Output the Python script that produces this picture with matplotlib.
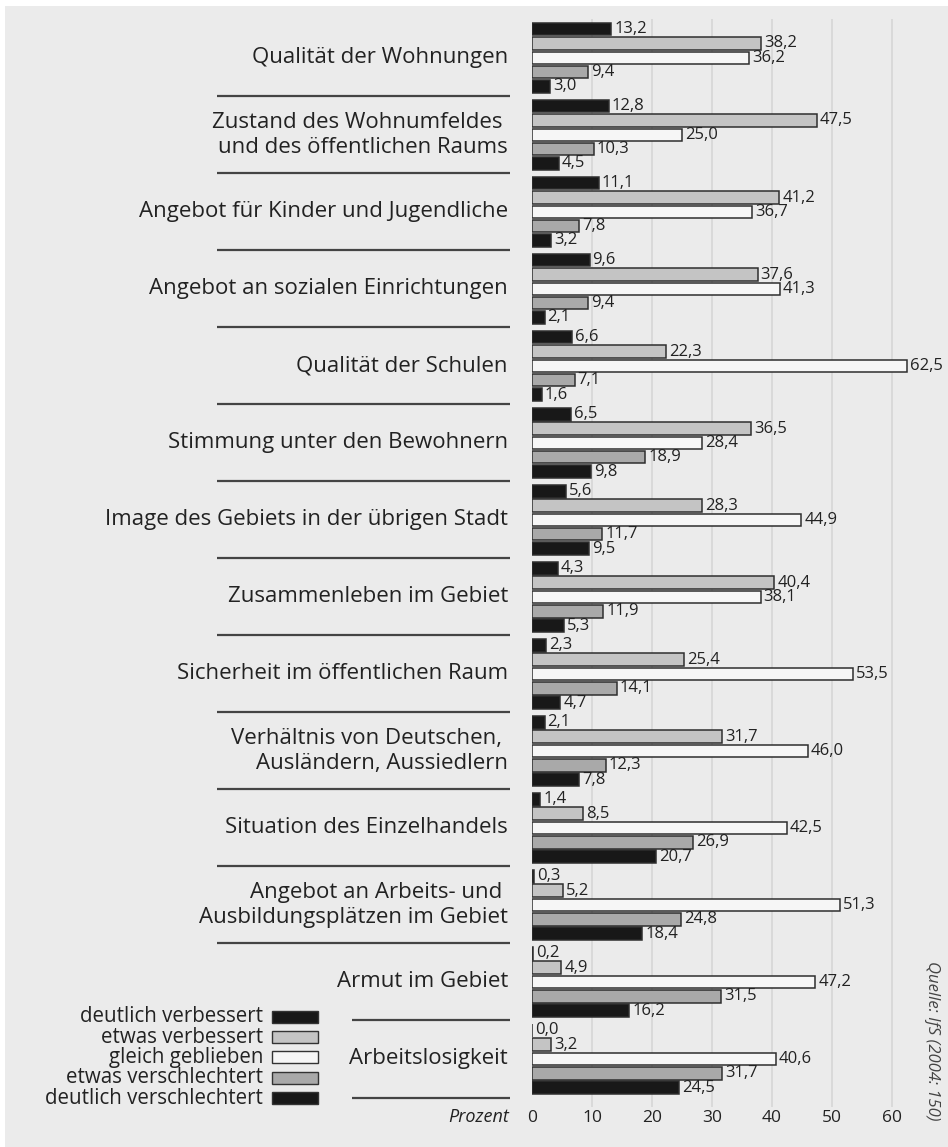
import numpy as np
import matplotlib.pyplot as plt
from matplotlib.patches import Rectangle

plt.rcParams['font.family'] = ['Open Sans', 'DejaVu Sans']

categories = [
    "Qualität der Wohnungen",
    "Zustand des Wohnumfeldes \nund des öffentlichen Raums",
    "Angebot für Kinder und Jugendliche",
    "Angebot an sozialen Einrichtungen",
    "Qualität der Schulen",
    "Stimmung unter den Bewohnern",
    "Image des Gebiets in der übrigen Stadt",
    "Zusammenleben im Gebiet",
    "Sicherheit im öffentlichen Raum",
    "Verhältnis von Deutschen, \nAusländern, Aussiedlern",
    "Situation des Einzelhandels",
    "Angebot an Arbeits- und \nAusbildungsplätzen im Gebiet",
    "Armut im Gebiet",
    "Arbeitslosigkeit",
]

series_names = ["deutlich verbessert", "etwas verbessert", "gleich geblieben",
                "etwas verschlechtert", "deutlich verschlechtert"]

deutlich_verbessert = [13.2, 12.8, 11.1, 9.6, 6.6, 6.5, 5.6, 4.3, 2.3, 2.1, 1.4, 0.3, 0.2, 0.0]
etwas_verbessert = [38.2, 47.5, 41.2, 37.6, 22.3, 36.5, 28.3, 40.4, 25.4, 31.7, 8.5, 5.2, 4.9, 3.2]
gleich_geblieben = [36.2, 25.0, 36.7, 41.3, 62.5, 28.4, 44.9, 38.1, 53.5, 46.0, 42.5, 51.3, 47.2, 40.6]
etwas_verschlechtert = [9.4, 10.3, 7.8, 9.4, 7.1, 18.9, 11.7, 11.9, 14.1, 12.3, 26.9, 24.8, 31.5, 31.7]
deutlich_verschlechtert = [3.0, 4.5, 3.2, 2.1, 1.6, 9.8, 9.5, 5.3, 4.7, 7.8, 20.7, 18.4, 16.2, 24.5]

x_ticks = [0, 10, 20, 30, 40, 50, 60]

series = [deutlich_verbessert, etwas_verbessert, gleich_geblieben,
          etwas_verschlechtert, deutlich_verschlechtert]
colors = ["#181818", "#c4c4c4", "#f6f6f6", "#a9a9a9", "#181818"]

W, H = 948, 1147
fig = plt.figure(figsize=(W / 100, H / 100), dpi=100, facecolor="white")
bg = "#ebebeb"
fig.patches.append(Rectangle((5 / W, 0), 1, 1 - 6 / H, transform=fig.transFigure,
                             facecolor=bg, edgecolor="none", zorder=-10))

# axes: x=0 at px 532, 6 px per percent; groups 77 px apart
x0_px, ppu = 532, 6.0
xmax = 65
top_px, bot_px = 19.3, 1097.5
ax = fig.add_axes([x0_px / W, 1 - bot_px / H, xmax * ppu / W, (bot_px - top_px) / H])
ax.set_facecolor("none")
ax.set_xlim(0, xmax)
ax.set_ylim(13.5, -0.5)
for s in ax.spines.values():
    s.set_visible(False)
ax.set_yticks([])
ax.set_xticks(x_ticks)
ax.set_xticklabels([str(t) for t in x_ticks])
ax.tick_params(axis="x", length=0, pad=9, labelsize=12.5, labelcolor="#222222")

n = len(categories)
y = np.arange(n)
step = 0.186
height = 0.163

ax.vlines(x_ticks[1:], -0.5, 13.62, colors="#d6d6d6", lw=1.2, zorder=0, clip_on=False)

for k, (vals, col) in enumerate(zip(series, colors)):
    yy = y + (k - 2) * step
    ax.barh(yy, vals, height=height, color=col, edgecolor="#2e2e2e", lw=1.1, zorder=2)
    for yi, v in zip(yy, vals):
        ax.text(v + 0.5, yi, f"{v:.1f}".replace(".", ","), va="center", ha="left",
                fontsize=12, color="#222222")

# category labels and separators left of the bars
label_x = -4.0
for i, cat in enumerate(categories):
    ax.text(label_x, i, cat, ha="right", va="center", fontsize=16, color="#222222",
            linespacing=1.28, multialignment="right", clip_on=False)

for i in range(n):
    ysep = i + 0.5
    xl = -30.0 if i >= n - 2 else -52.5
    ax.plot([xl, -3.6], [ysep, ysep], color="#444444", lw=1.6, clip_on=False,
            solid_capstyle="butt")

ax.text(-3.8, 13.5 + 19 / 77, "Prozent", ha="right", va="center", fontsize=13,
        style="italic", color="#222222", clip_on=False)

# legend
leg_y0 = (1016.7 - 57.8) / 77
leg_step = 20.3 / 77
for k, (name, col) in enumerate(zip(series_names, colors)):
    yk = leg_y0 + k * leg_step
    ax.add_patch(Rectangle((-43.3, yk - 0.078), 7.6, 0.156, facecolor=col,
                           edgecolor="#333333", lw=1.0, clip_on=False))
    ax.text(-44.8, yk, name, ha="right", va="center", fontsize=14.8,
            color="#222222", clip_on=False)

fig.text(932 / W, 1 - 1041 / H, "Quelle: IfS (2004: 150)", rotation=270,
         ha="center", va="center", fontsize=12, style="italic", color="#444444")

fig.savefig("out.png", dpi=100, facecolor="white")
